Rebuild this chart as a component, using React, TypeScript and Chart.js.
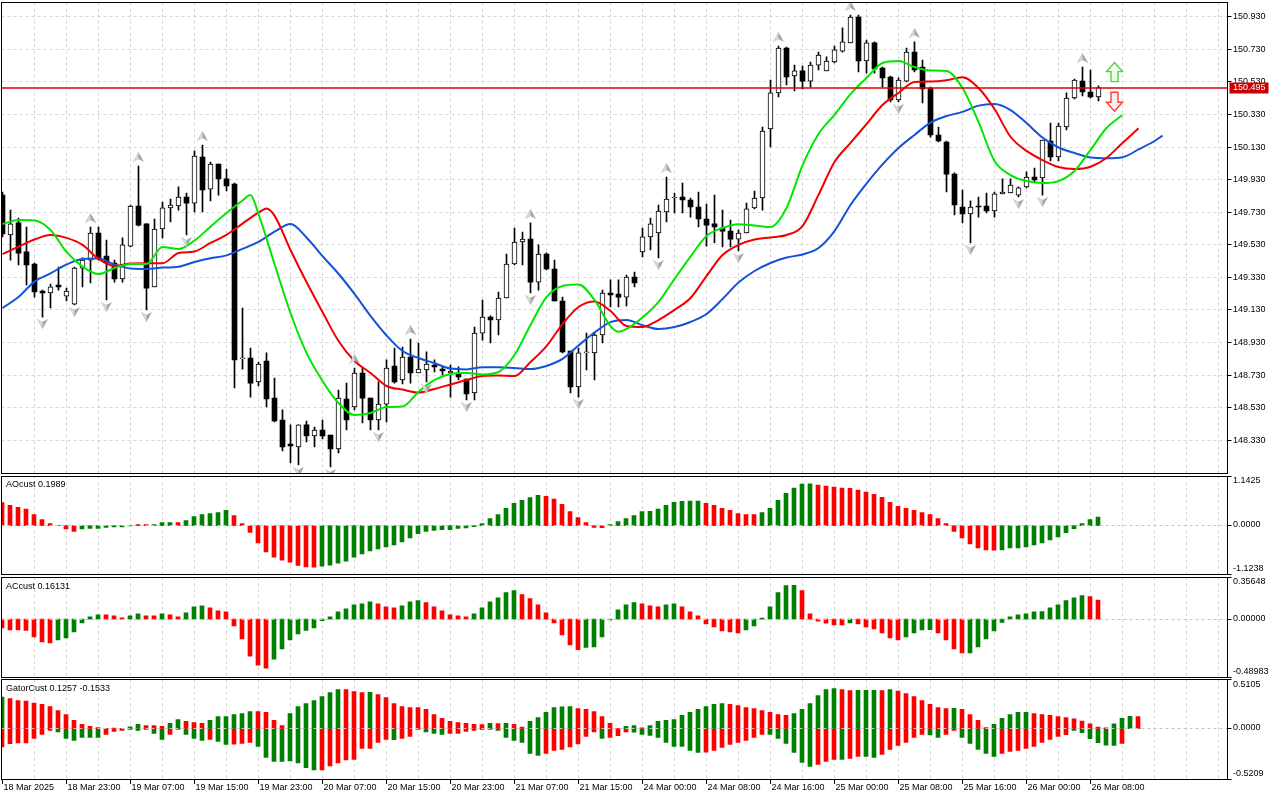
import React, { useEffect, useRef } from 'react';
import { Chart, registerables } from 'chart.js';

Chart.register(...registerables);

// ---------------- data ----------------
const timeLabels = ['18 Mar 2025', '18 Mar 23:00', '19 Mar 07:00', '19 Mar 15:00', '19 Mar 23:00', '20 Mar 07:00', '20 Mar 15:00', '20 Mar 23:00', '21 Mar 07:00', '21 Mar 15:00', '24 Mar 00:00', '24 Mar 08:00', '24 Mar 16:00', '25 Mar 00:00', '25 Mar 08:00', '25 Mar 16:00', '26 Mar 00:00', '26 Mar 08:00'];
const timeLabelBars = [0, 8, 16, 24, 32, 40, 48, 56, 64, 72, 80, 88, 96, 104, 112, 120, 128, 136];

const priceTicks = [150.93, 150.73, 150.53, 150.33, 150.13, 149.93, 149.73, 149.53, 149.33, 149.13, 148.93, 148.73, 148.53, 148.33];
const bidPrice = 150.495;

const opens = [149.835,149.590,149.664,149.486,149.412,149.246,149.234,149.283,149.215,149.166,
149.387,149.436,149.602,149.461,149.418,149.320,149.522,149.768,149.658,149.271,
149.627,149.756,149.768,149.823,149.786,150.069,149.872,150.026,149.934,149.903,
148.829,148.835,148.688,148.816,148.589,148.454,148.307,148.289,148.424,148.356,
148.393,148.362,148.276,148.583,148.534,148.743,148.589,148.454,148.552,148.786,
148.700,148.841,148.743,148.761,148.792,148.767,148.743,148.743,148.706,148.620,
148.988,149.086,149.068,149.203,149.412,149.547,149.565,149.301,149.473,149.381,
149.185,148.878,148.657,148.866,148.866,148.976,149.234,149.228,149.209,149.332,
149.486,149.578,149.602,149.731,149.817,149.823,149.805,149.762,149.688,149.658,
149.633,149.614,149.565,149.602,149.756,149.817,150.241,150.462,150.738,150.566,
150.597,150.535,150.633,150.597,150.652,150.719,150.769,150.928,150.658,150.769,
150.615,150.560,150.419,150.535,150.713,150.621,150.492,150.204,150.161,149.964,
149.762,149.719,149.768,149.768,149.737,149.842,149.848,149.835,149.885,149.946,
149.940,150.167,150.069,150.253,150.431,150.535,150.468,150.437];

const highs = [149.854,149.743,149.694,149.639,149.418,149.252,149.289,149.393,149.264,149.393,
149.449,149.639,149.639,149.559,149.436,149.572,149.774,150.013,149.658,149.688,
149.792,149.811,149.885,149.848,150.106,150.142,150.038,150.026,149.995,149.909,
149.142,148.896,148.810,148.866,148.712,148.516,148.424,148.424,148.448,148.411,
148.454,148.362,148.638,148.681,148.773,148.773,148.589,148.688,148.823,148.896,
148.902,148.951,148.927,148.872,148.823,148.780,148.792,148.780,148.706,149.025,
149.191,149.093,149.240,149.473,149.633,149.608,149.664,149.529,149.480,149.436,
149.209,148.878,148.896,148.988,148.988,149.252,149.314,149.314,149.344,149.363,
149.633,149.694,149.774,149.946,149.848,149.909,149.817,149.854,149.780,149.835,
149.743,149.682,149.621,149.786,149.860,150.253,150.541,150.750,150.744,150.633,
150.627,150.652,150.713,150.683,150.750,150.861,150.940,150.940,150.787,150.775,
150.621,150.566,150.554,150.738,150.775,150.664,150.498,150.253,150.167,149.971,
149.866,149.799,149.823,149.848,149.854,149.934,149.934,149.885,149.977,150.001,
150.173,150.277,150.277,150.462,150.547,150.621,150.603,150.505];

const lows = [149.578,149.436,149.406,149.283,149.209,149.086,149.142,149.252,149.185,149.160,
149.271,149.295,149.436,149.191,149.301,149.301,149.516,149.645,149.130,149.271,
149.572,149.670,149.743,149.590,149.731,149.731,149.799,149.835,149.860,148.651,
148.767,148.595,148.663,148.534,148.442,148.264,148.190,148.178,148.319,148.289,
148.338,148.166,148.252,148.393,148.516,148.436,148.393,148.393,148.442,148.681,
148.675,148.681,148.743,148.688,148.749,148.731,148.595,148.700,148.577,148.577,
148.945,148.927,148.976,149.203,149.406,149.406,149.234,149.252,149.375,149.185,
148.866,148.620,148.595,148.761,148.700,148.927,149.148,149.148,149.154,149.271,
149.455,149.498,149.449,149.670,149.725,149.725,149.700,149.639,149.522,149.541,
149.516,149.516,149.492,149.602,149.750,149.743,150.130,150.437,150.511,150.474,
150.486,150.498,150.603,150.597,150.646,150.713,150.769,150.591,150.584,150.584,
150.498,150.407,150.407,150.529,150.591,150.400,150.191,150.161,149.854,149.713,
149.664,149.541,149.700,149.725,149.700,149.842,149.848,149.823,149.879,149.915,
149.835,150.044,150.044,150.235,150.425,150.443,150.431,150.413];

const closes = [149.596,149.658,149.479,149.406,149.240,149.234,149.271,149.271,149.246,149.387,
149.436,149.602,149.449,149.418,149.320,149.529,149.768,149.651,149.264,149.627,
149.756,149.774,149.823,149.786,150.075,149.866,150.026,149.934,149.891,148.823,
148.835,148.681,148.798,148.583,148.448,148.289,148.295,148.424,148.356,148.393,
148.356,148.276,148.589,148.454,148.743,148.589,148.454,148.552,148.773,148.688,
148.841,148.743,148.767,148.798,148.780,148.755,148.755,148.718,148.614,148.988,
149.086,149.068,149.203,149.412,149.547,149.565,149.301,149.473,149.381,149.185,
148.872,148.657,148.866,148.872,148.976,149.234,149.222,149.209,149.332,149.295,
149.578,149.658,149.737,149.811,149.823,149.805,149.762,149.688,149.651,149.639,
149.614,149.565,149.602,149.750,149.817,150.228,150.462,150.738,150.560,150.597,
150.535,150.633,150.695,150.658,150.726,150.775,150.928,150.658,150.769,150.609,
150.554,150.419,150.541,150.713,150.603,150.486,150.204,150.167,149.964,149.774,
149.719,149.762,149.762,149.737,149.842,149.854,149.897,149.879,149.946,149.928,
150.173,150.069,150.259,150.431,150.541,150.468,150.437,150.495];

// Alligator lines as drawn (bar index, price)
const jawLine = [[0,149.142],[2,149.209],[4,149.304],[6,149.354],[8,149.409],[10,149.443],[12,149.446],[14,149.409],[16,149.384],[18,149.381],[20,149.390],[22,149.395],[24,149.424],[26,149.447],[28,149.465],[30,149.505],[32,149.548],[34,149.610],[36,149.657],[38,149.575],[40,149.460],[42,149.352],[44,149.228],[46,149.093],[48,148.973],[50,148.878],[52,148.835],[54,148.803],[56,148.770],[58,148.765],[60,148.778],[62,148.778],[64,148.773],[66,148.767],[68,148.786],[70,148.829],[72,148.912],[74,148.991],[76,149.055],[78,149.068],[80,149.036],[82,149.013],[84,149.025],[86,149.056],[88,149.105],[90,149.197],[92,149.298],[94,149.369],[96,149.418],[98,149.452],[100,149.470],[102,149.510],[104,149.614],[106,149.774],[108,149.905],[110,150.023],[112,150.124],[114,150.204],[116,150.280],[118,150.320],[120,150.346],[122,150.384],[124,150.394],[126,150.357],[128,150.277],[130,150.188],[132,150.127],[134,150.093],[136,150.066],[138,150.061],[140,150.067],[142,150.115],[144,150.167],[145,150.200]];
const teethLine = [[0,149.473],[2,149.518],[4,149.562],[6,149.590],[8,149.572],[10,149.529],[12,149.443],[14,149.400],[16,149.415],[18,149.416],[20,149.416],[22,149.479],[24,149.489],[26,149.541],[28,149.591],[30,149.660],[32,149.727],[33,149.753],[34,149.709],[36,149.498],[38,149.301],[40,149.117],[42,148.939],[44,148.816],[46,148.743],[48,148.663],[50,148.641],[52,148.623],[54,148.645],[56,148.672],[58,148.700],[60,148.724],[62,148.727],[64,148.724],[66,148.810],[68,148.908],[70,149.043],[72,149.148],[74,149.182],[76,149.123],[78,149.031],[80,149.025],[82,149.068],[84,149.130],[86,149.203],[88,149.338],[90,149.467],[92,149.529],[94,149.562],[96,149.575],[98,149.590],[100,149.645],[102,149.836],[104,150.038],[106,150.155],[108,150.271],[110,150.388],[112,150.462],[114,150.529],[116,150.532],[118,150.540],[120,150.558],[122,150.492],[124,150.363],[126,150.193],[128,150.106],[130,150.050],[132,150.007],[134,149.995],[136,150.009],[138,150.063],[140,150.155],[142,150.245]];
const lipsLine = [[0,149.657],[2,149.682],[4,149.679],[6,149.621],[8,149.486],[10,149.396],[12,149.350],[14,149.387],[16,149.412],[18,149.412],[20,149.516],[22,149.504],[24,149.556],[26,149.641],[28,149.725],[30,149.802],[31,149.835],[32,149.719],[34,149.412],[36,149.111],[38,148.866],[40,148.694],[42,148.558],[44,148.485],[46,148.497],[48,148.534],[50,148.537],[52,148.626],[54,148.700],[56,148.737],[58,148.743],[60,148.734],[62,148.749],[64,148.853],[66,149.038],[68,149.209],[70,149.277],[72,149.286],[74,149.191],[76,149.031],[77,148.996],[78,149.013],[80,149.083],[82,149.179],[84,149.320],[86,149.457],[88,149.584],[90,149.633],[92,149.656],[94,149.648],[96,149.639],[98,149.756],[100,150.017],[102,150.210],[104,150.327],[106,150.455],[108,150.554],[110,150.646],[112,150.658],[114,150.621],[116,150.600],[118,150.597],[120,150.492],[122,150.284],[124,150.044],[126,149.958],[128,149.921],[130,149.909],[132,149.921],[134,149.983],[136,150.112],[138,150.247],[140,150.327]];

const fractalUpBars = [11, 17, 25, 44, 51, 66, 83, 97, 106, 114, 135];
const fractalDownBars = [5, 9, 13, 18, 23, 37, 41, 47, 53, 58, 66, 72, 82, 92, 112, 121, 127, 130];

const signalUpBars = [139];
const signalUpPrices = [150.590];
const signalDownBars = [139];
const signalDownPrices = [150.408];

const aoValues = [0.529,0.466,0.420,0.380,0.257,0.140,0.047,0.007,-0.077,-0.133,
-0.077,-0.063,-0.063,-0.040,-0.030,-0.030,-0.007,0.023,0.023,0.023,
0.070,0.070,0.070,0.117,0.210,0.257,0.280,0.303,0.350,0.233,
0.047,-0.156,-0.396,-0.606,-0.723,-0.793,-0.840,-0.916,-0.949,-0.955,
-0.933,-0.909,-0.863,-0.816,-0.723,-0.653,-0.583,-0.536,-0.490,-0.443,
-0.373,-0.280,-0.187,-0.133,-0.110,-0.093,-0.090,-0.063,-0.054,-0.023,
0.047,0.163,0.257,0.396,0.513,0.583,0.646,0.700,0.676,0.613,
0.490,0.326,0.187,0.070,-0.040,-0.045,0.023,0.093,0.163,0.233,
0.326,0.330,0.380,0.466,0.536,0.560,0.563,0.566,0.513,0.466,
0.396,0.350,0.280,0.257,0.254,0.303,0.396,0.583,0.746,0.863,
0.956,0.960,0.933,0.909,0.886,0.863,0.860,0.816,0.770,0.723,
0.653,0.536,0.443,0.396,0.350,0.303,0.257,0.163,0.047,-0.133,
-0.280,-0.420,-0.513,-0.560,-0.563,-0.560,-0.513,-0.510,-0.490,-0.443,
-0.396,-0.326,-0.257,-0.163,-0.070,0.047,0.140,0.1989];
const aoColorRuns = [['r',10],['g',7],['r',2],['g',3],['r',1],['g',6],['r',11],['g',28],['r',8],['g',12],['r',7],['g',7],['r',23],['g',13]];

const acValues = [-0.074,-0.091,-0.092,-0.096,-0.151,-0.193,-0.202,-0.176,-0.159,-0.108,
-0.032,0.020,0.037,0.036,0.028,0.011,0.028,0.045,0.028,0.027,
0.045,0.037,0.020,0.054,0.105,0.113,0.096,0.071,0.062,-0.057,
-0.168,-0.313,-0.389,-0.415,-0.338,-0.253,-0.176,-0.125,-0.096,-0.074,
-0.014,0.020,0.062,0.088,0.122,0.130,0.147,0.130,0.105,0.096,
0.113,0.147,0.156,0.139,0.105,0.071,0.037,0.028,0.020,0.045,
0.096,0.147,0.181,0.224,0.241,0.207,0.173,0.122,0.054,-0.032,
-0.134,-0.219,-0.258,-0.239,-0.236,-0.151,-0.006,0.079,0.122,0.139,
0.130,0.113,0.105,0.122,0.130,0.105,0.062,0.028,-0.040,-0.066,
-0.100,-0.108,-0.117,-0.091,-0.057,0.009,0.105,0.224,0.284,0.285,
0.241,0.045,-0.017,-0.034,-0.049,-0.050,-0.032,-0.040,-0.066,-0.083,
-0.117,-0.159,-0.176,-0.151,-0.117,-0.091,-0.090,-0.117,-0.176,-0.253,
-0.287,-0.286,-0.236,-0.168,-0.100,-0.028,0.020,0.037,0.045,0.062,
0.063,0.096,0.122,0.156,0.181,0.199,0.190,0.16131];
const acColorRuns = [['r',7],['g',6],['r',3],['g',2],['r',2],['g',1],['r',2],['g',3],['r',8],['g',13],['r',3],['g',3],['r',6],['g',6],['r',8],['g',7],['r',3],['g',2],['r',8],['g',7],['r',6],['g',1],['r',6],['g',4],['r',4],['g',15],['r',2]];

const gatorUpper = [0.328,0.314,0.293,0.287,0.266,0.252,0.231,0.189,0.148,0.086,
0.045,0.024,0.013,0.005,0.007,0.003,0.021,0.045,0.034,0.034,
0.024,0.055,0.096,0.076,0.065,0.055,0.086,0.127,0.127,0.148,
0.158,0.179,0.179,0.169,0.086,0.034,0.158,0.231,0.262,0.293,
0.334,0.376,0.407,0.406,0.386,0.376,0.377,0.355,0.324,0.262,
0.231,0.220,0.219,0.200,0.148,0.107,0.076,0.065,0.055,0.045,
0.044,0.055,0.054,0.055,0.045,0.016,0.076,0.117,0.169,0.220,
0.228,0.231,0.210,0.200,0.179,0.127,0.055,0.003,0.024,0.034,
0.010,0.034,0.076,0.086,0.096,0.138,0.169,0.200,0.231,0.252,
0.262,0.252,0.241,0.220,0.210,0.189,0.169,0.148,0.138,0.158,
0.200,0.262,0.345,0.407,0.417,0.407,0.396,0.397,0.398,0.399,
0.396,0.407,0.390,0.365,0.334,0.293,0.252,0.220,0.210,0.211,
0.200,0.148,0.086,0.013,0.045,0.107,0.148,0.169,0.170,0.158,
0.148,0.138,0.127,0.117,0.104,0.080,0.052,0.018,0.010,0.052,
0.107,0.128,0.1257];
const gatorUpperRuns = [['g',1],['r',15],['g',2],['r',3],['g',2],['r',3],['g',6],['r',4],['g',7],['r',3],['g',1],['r',14],['g',1],['r',1],['g',1],['r',2],['g',6],['r',6],['g',2],['r',1],['g',10],['r',8],['g',6],['r',2],['g',3],['r',1],['g',1],['r',7],['g',1],['r',4],['g',5],['r',10],['g',3],['r',1]];

const gatorLower = [-0.189,-0.155,-0.148,-0.147,-0.100,-0.059,-0.018,-0.034,-0.100,-0.121,
-0.090,-0.090,-0.090,-0.059,-0.028,-0.018,-0.007,-0.018,-0.007,-0.049,
-0.111,-0.059,-0.007,-0.059,-0.100,-0.121,-0.111,-0.131,-0.162,-0.161,
-0.152,-0.142,-0.183,-0.297,-0.338,-0.339,-0.334,-0.355,-0.404,-0.427,
-0.426,-0.386,-0.355,-0.324,-0.318,-0.204,-0.203,-0.142,-0.111,-0.112,
-0.100,-0.080,-0.007,-0.034,-0.049,-0.059,-0.049,-0.048,-0.028,-0.018,
-0.007,-0.008,-0.018,-0.090,-0.121,-0.142,-0.256,-0.276,-0.256,-0.225,
-0.214,-0.189,-0.158,-0.080,-0.034,-0.100,-0.090,-0.072,-0.034,-0.035,
-0.059,-0.069,-0.090,-0.142,-0.183,-0.184,-0.225,-0.245,-0.244,-0.225,
-0.194,-0.162,-0.142,-0.121,-0.090,-0.059,-0.060,-0.100,-0.152,-0.245,
-0.349,-0.390,-0.369,-0.338,-0.318,-0.319,-0.307,-0.287,-0.288,-0.297,
-0.266,-0.214,-0.173,-0.142,-0.090,-0.059,-0.065,-0.090,-0.059,-0.018,
-0.090,-0.152,-0.214,-0.256,-0.287,-0.256,-0.235,-0.225,-0.204,-0.183,
-0.142,-0.111,-0.080,-0.062,-0.018,-0.041,-0.104,-0.145,-0.171,-0.172,
-0.1533];
const gatorLowerRuns = [['r',7],['g',6],['r',3],['g',2],['r',1],['g',2],['r',2],['g',3],['r',1],['g',2],['r',3],['g',8],['r',9],['g',1],['r',3],['g',3],['r',5],['g',7],['r',7],['g',1],['r',3],['g',9],['r',8],['g',6],['r',3],['g',1],['r',2],['g',2],['r',6],['g',2],['r',2],['g',5],['r',9],['g',6],['r',1]];

const aoRange = [-1.1238, 1.1425];
const acRange = [-0.48983, 0.35648];
const gatorRange = [-0.5209, 0.5105];
const aoAxisLabels = ['1.1425', '0.0000', '-1.1238'];
const acAxisLabels = ['0.35648', '0.00000', '-0.48983'];
const gatorAxisLabels = ['0.5105', '0.0000', '-0.5209'];
const aoTitle = 'AOcust 0.1989';
const acTitle = 'ACcust 0.16131';
const gatorTitle = 'GatorCust 0.1257 -0.1533';

// ---------------- styling / layout ----------------
const FONT = '9px "Liberation Sans", Arial, sans-serif';
const HIST_GREEN = '#008000';
const HIST_RED = '#ff0000';
const GRID_COLOR = '#d6d6d6';
const ZERO_COLOR = '#c4c4c4';
const PAD_LEFT = 1.5;
const AXIS_W = 52.5;
const BAR_PX = 8;
const PLOT_W = 1280 - PAD_LEFT - AXIS_W;
const MAIN_MIN = 148.1258;
const MAIN_MAX = 151.0172;
const MAIN_XMIN = -0.125;
const SUB_XMIN = -0.0625;

const crisp = (v: number) => Math.floor(v) + 0.5;

function runsToColors(runs: any[]) {
  const out: string[] = [];
  runs.forEach(([c, n]) => {
    for (let k = 0; k < n; k++) out.push(c === 'g' ? HIST_GREEN : HIST_RED);
  });
  return out;
}

function hLine(ctx: any, x1: number, x2: number, y: number) {
  ctx.beginPath(); ctx.moveTo(x1, y); ctx.lineTo(x2, y); ctx.stroke();
}
function vLine(ctx: any, x: number, y1: number, y2: number) {
  ctx.beginPath(); ctx.moveTo(x, y1); ctx.lineTo(x, y2); ctx.stroke();
}

function drawVerticalGrid(chart: any) {
  const { ctx, chartArea: a, scales } = chart;
  ctx.save();
  ctx.strokeStyle = GRID_COLOR;
  ctx.lineWidth = 1;
  ctx.setLineDash([3, 3]);
  for (let i = 4; i < 200; i += 4) {
    const px = crisp(scales.x.getPixelForValue(i));
    if (px >= a.right - 1) break;
    vLine(ctx, px, a.top, a.bottom);
  }
  ctx.restore();
}

function drawFrame(chart: any) {
  const { ctx, chartArea: a } = chart;
  ctx.save();
  ctx.strokeStyle = '#000';
  ctx.lineWidth = 1;
  ctx.setLineDash([]);
  const l = crisp(a.left), r = crisp(a.right), t = crisp(a.top), b = crisp(a.bottom);
  ctx.strokeRect(l, t, r - l, b - t);
  ctx.restore();
}

function drawFractal(ctx: any, x: number, y: number, up: boolean) {
  const s = up ? 1 : -1;
  ctx.beginPath();
  ctx.moveTo(x, y - 5 * s);
  ctx.lineTo(x + 5.5, y + 5 * s);
  ctx.lineTo(x, y + 2 * s);
  ctx.lineTo(x - 5.5, y + 5 * s);
  ctx.closePath();
  ctx.fillStyle = '#a4a4a4';
  ctx.fill();
  ctx.beginPath();
  ctx.moveTo(x, y - 5 * s);
  ctx.lineTo(x, y + 2 * s);
  ctx.lineTo(x - 5.5, y + 5 * s);
  ctx.closePath();
  ctx.fillStyle = '#d8d8d8';
  ctx.fill();
}

function drawBlockArrow(ctx: any, x: number, yc: number, up: boolean, stroke: string, fill: string) {
  const s = up ? 1 : -1;
  const tip = yc - 9.5 * s, base = yc + 9.5 * s, neck = tip + 9 * s;
  ctx.beginPath();
  ctx.moveTo(x, tip);
  ctx.lineTo(x + 8, neck);
  ctx.lineTo(x + 3.5, neck);
  ctx.lineTo(x + 3.5, base);
  ctx.lineTo(x - 3.5, base);
  ctx.lineTo(x - 3.5, neck);
  ctx.lineTo(x - 8, neck);
  ctx.closePath();
  ctx.fillStyle = fill;
  ctx.fill();
  ctx.lineWidth = 1.4;
  ctx.strokeStyle = stroke;
  ctx.stroke();
}

const mainPlugin = {
  id: 'mainPanel',
  beforeDatasetsDraw(chart: any) {
    drawVerticalGrid(chart);
    const { ctx, chartArea: a, scales } = chart;
    ctx.save();
    ctx.strokeStyle = GRID_COLOR;
    ctx.lineWidth = 1;
    ctx.setLineDash([3, 3]);
    priceTicks.forEach((v) => hLine(ctx, a.left, a.right, crisp(scales.y.getPixelForValue(v))));
    ctx.restore();
  },
  afterDatasetsDraw(chart: any) {
    const { ctx, chartArea: a, scales } = chart;
    ctx.save();
    ctx.beginPath();
    ctx.rect(a.left, a.top, a.right - a.left, a.bottom - a.top);
    ctx.clip();
    // bid line drawn over the candles
    ctx.setLineDash([]);
    ctx.lineWidth = 1.6;
    ctx.strokeStyle = '#e00000';
    hLine(ctx, a.left, a.right, Math.round(scales.y.getPixelForValue(bidPrice)));
    fractalUpBars.forEach((i) => drawFractal(ctx, scales.x.getPixelForValue(i), scales.y.getPixelForValue(highs[i]) - 9, true));
    fractalDownBars.forEach((i) => drawFractal(ctx, scales.x.getPixelForValue(i), scales.y.getPixelForValue(lows[i]) + 7, false));
    signalUpBars.forEach((b, k) => drawBlockArrow(ctx, scales.x.getPixelForValue(b), scales.y.getPixelForValue(signalUpPrices[k]), true, '#4fcf4f', '#f0fbe6'));
    signalDownBars.forEach((b, k) => drawBlockArrow(ctx, scales.x.getPixelForValue(b), scales.y.getPixelForValue(signalDownPrices[k]), false, '#ff3c3c', '#fff0ee'));
    ctx.restore();
  },
  afterDraw(chart: any) {
    drawFrame(chart);
    const { ctx, chartArea: a, scales } = chart;
    ctx.save();
    ctx.font = FONT;
    ctx.textBaseline = 'middle';
    ctx.textAlign = 'left';
    ctx.fillStyle = '#000';
    ctx.strokeStyle = '#000';
    ctx.lineWidth = 1;
    priceTicks.forEach((v) => {
      const py = scales.y.getPixelForValue(v);
      hLine(ctx, a.right, a.right + 4, crisp(py));
      ctx.fillText(v.toFixed(3), a.right + 5.5, py);
    });
    const by = scales.y.getPixelForValue(bidPrice);
    ctx.fillStyle = '#c80000';
    ctx.fillRect(a.right + 2, Math.round(by) - 5.5, 39, 11);
    ctx.fillStyle = '#ffffff';
    ctx.fillText(bidPrice.toFixed(3), a.right + 5.5, by);
    ctx.restore();
  },
};

function makeSubPlugin(id: string, title: string, titleOffset: number, labels: string[], timeAxis: boolean) {
  return {
    id,
    beforeDatasetsDraw(chart: any) {
      drawVerticalGrid(chart);
    },
    afterDatasetsDraw(chart: any) {
      const { ctx, chartArea: a, scales } = chart;
      ctx.save();
      ctx.strokeStyle = ZERO_COLOR;
      ctx.lineWidth = 1;
      ctx.setLineDash([3, 3]);
      hLine(ctx, a.left, a.right, crisp(scales.y.getPixelForValue(0)));
      ctx.restore();
    },
    afterDraw(chart: any) {
      drawFrame(chart);
      const { ctx, chartArea: a, scales } = chart;
      const zy = scales.y.getPixelForValue(0);
      ctx.save();
      ctx.font = FONT;
      ctx.textBaseline = 'middle';
      ctx.textAlign = 'left';
      ctx.fillStyle = '#000';
      ctx.strokeStyle = '#000';
      ctx.lineWidth = 1;
      const marks = [a.top, zy, a.bottom];
      const textY = [a.top + 5, zy - 1, a.bottom - 5.5];
      marks.forEach((m, k) => {
        hLine(ctx, a.right, a.right + 4, crisp(m));
        ctx.fillText(labels[k], a.right + 5.5, textY[k]);
      });
      ctx.fillText(title, 6, a.top + titleOffset);
      if (timeAxis) {
        timeLabelBars.forEach((b, k) => {
          const px = crisp(scales.x.getPixelForValue(b));
          vLine(ctx, px, a.bottom, a.bottom + 5);
          ctx.fillText(timeLabels[k], px + 1, a.bottom + 9);
        });
      }
      ctx.restore();
    },
  };
}

function baseOptions(xmin: number, ymin: number, ymax: number, padTop: number, padBottom: number) {
  return {
    responsive: false,
    animation: false,
    events: [],
    layout: { padding: { left: PAD_LEFT, right: AXIS_W, top: padTop, bottom: padBottom } },
    plugins: { legend: { display: false }, tooltip: { enabled: false } },
    scales: {
      x: { type: 'linear', min: xmin, max: xmin + PLOT_W / BAR_PX, offset: false, display: false, grid: { offset: false } },
      y: { type: 'linear', min: ymin, max: ymax, display: false },
    },
  };
}

function mainConfig(): any {
  const wickData = highs.map((h, i) => ({ x: i, y: [lows[i], h] }));
  const bodyData = opens.map((o, i) => ({ x: i, y: [o, closes[i]] }));
  const bull = opens.map((o, i) => closes[i] >= o);
  const lineSet = (pts: number[][], color: string, order: number) => ({
    type: 'line',
    data: pts.map(([x, y]) => ({ x, y })),
    borderColor: color,
    borderWidth: 2,
    pointRadius: 0,
    cubicInterpolationMode: 'monotone',
    fill: false,
    order,
  });
  return {
    type: 'bar',
    data: {
      datasets: [
        lineSet(lipsLine, '#00e600', 1),
        lineSet(teethLine, '#f20000', 2),
        lineSet(jawLine, '#1452d8', 3),
        {
          type: 'bar', data: bodyData, grouped: false, barThickness: 5, minBarLength: 1,
          backgroundColor: bull.map((b) => (b ? '#ffffff' : '#000000')),
          borderColor: '#000000', borderWidth: bull.map((b) => (b ? 1 : 0)), borderSkipped: false, order: 4,
        },
        { type: 'bar', data: wickData, grouped: false, barThickness: 1, backgroundColor: '#000000', borderWidth: 0, order: 5 },
      ],
    },
    options: baseOptions(MAIN_XMIN, MAIN_MIN, MAIN_MAX, 2.5, 1.5),
    plugins: [mainPlugin],
  };
}

function histConfig(sets: any[], range: number[], padTop: number, padBottom: number, plugin: any): any {
  return {
    type: 'bar',
    data: {
      datasets: sets.map(([vals, runs]) => ({
        type: 'bar',
        data: vals.map((v: number, i: number) => ({ x: i, y: v })),
        backgroundColor: runsToColors(runs),
        borderWidth: 0,
        grouped: false,
        barThickness: 4,
      })),
    },
    options: baseOptions(SUB_XMIN, range[0], range[1], padTop, padBottom),
    plugins: [plugin],
  };
}

export default function App() {
  const mainRef = useRef<HTMLCanvasElement>(null);
  const aoRef = useRef<HTMLCanvasElement>(null);
  const acRef = useRef<HTMLCanvasElement>(null);
  const gatorRef = useRef<HTMLCanvasElement>(null);

  useEffect(() => {
    document.body.style.margin = '0';
    document.body.style.background = '#ffffff';
    const charts = [
      new Chart(mainRef.current as any, mainConfig()),
      new Chart(aoRef.current as any, histConfig([[aoValues, aoColorRuns]], aoRange, 1, 1.5, makeSubPlugin('ao', aoTitle, 8.3, aoAxisLabels, false))),
      new Chart(acRef.current as any, histConfig([[acValues, acColorRuns]], acRange, 1, 1, makeSubPlugin('ac', acTitle, 10, acAxisLabels, false))),
      new Chart(gatorRef.current as any, histConfig([[gatorUpper, gatorUpperRuns], [gatorLower, gatorLowerRuns]], gatorRange, 1.5, 21, makeSubPlugin('gator', gatorTitle, 9.2, gatorAxisLabels, true))),
    ];
    return () => charts.forEach((c) => c.destroy());
  }, []);

  const abs = (top: number): React.CSSProperties => ({ position: 'absolute', left: 0, top });
  return (
    <div style={{ position: 'relative', width: 1280, height: 800, background: '#ffffff', overflow: 'hidden' }}>
      <canvas ref={mainRef} width={1280} height={475} style={abs(0)} />
      <canvas ref={aoRef} width={1280} height={101} style={abs(475)} />
      <canvas ref={acRef} width={1280} height={102} style={abs(576)} />
      <canvas ref={gatorRef} width={1280} height={122} style={abs(678)} />
    </div>
  );
}
